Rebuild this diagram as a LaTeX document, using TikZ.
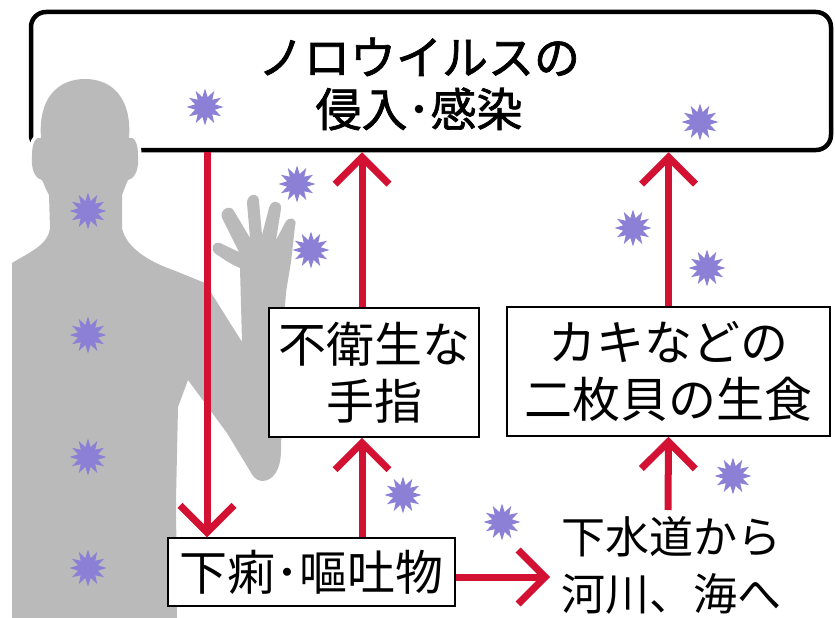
\documentclass[tikz,border=0pt]{standalone}
\usepackage{fontspec}
\newfontfamily\jpfont{Noto Sans CJK JP}
\newfontfamily\jpheavy[FakeBold=1.5]{Noto Sans CJK JP}
\usetikzlibrary{arrows.meta,shapes.geometric}

\definecolor{virus}{RGB}{140,128,214}
\definecolor{route}{RGB}{211,17,51}
\definecolor{silhouette}{RGB}{186,186,186}

\tikzset{
    frame/.style={draw, line width=4.5pt, rounded corners=15pt, inner sep=0pt},
    plate/.style={draw, fill=white, line width=1.5pt, inner sep=0pt, align=center,
        font=\jpfont\fontsize{48}{57}\selectfont},
    flow/.style={draw=route, line width=7pt, -{Straight Barb[length=27pt, width=54pt]}},
    germ/.style={star, star points=12, star point ratio=1.8, minimum size=37pt,
        inner sep=0pt, fill=virus},
}

\begin{document}
\begin{tikzpicture}[x=1pt, y=-1pt]
    \useasboundingbox[fill=white] (0,0) rectangle (835,618);

    % Where the virus gets in
    \node[frame, minimum width=800pt, minimum height=138pt] (infect) at (431,81) {};
    \node[font=\jpheavy\fontsize{46}{52}\selectfont, align=center, inner sep=0pt]
        (title) at (419,84) {ノロウイルスの\\侵入･感染};

    % Person with raised hand, white rim cuts the frame
    \path[fill=silhouette, preaction={draw=white, line width=7pt, line join=round}]
        (12,618) -- (12,263)
        .. controls (30,252) and (48,245) .. (50,228)
        -- (49,195)
        .. controls (46,190) and (44,184) .. (42,180)
        .. controls (34,178) and (31,168) .. (32,155)
        .. controls (32,143) and (36,136) .. (41,138)
        .. controls (38,98) and (58,79) .. (85,79)
        .. controls (112,79) and (132,98) .. (129,138)
        .. controls (134,136) and (138,143) .. (138,155)
        .. controls (139,168) and (136,178) .. (128,180)
        .. controls (126,184) and (124,190) .. (122,195)
        -- (122,228)
        .. controls (126,248) and (150,262) .. (173,270)
        -- (205,283) -- (242,342) -- (240,268)
        .. controls (230,264) and (222,258) .. (216,254)
        .. controls (210,250) and (212,241) .. (220,243)
        -- (239,252) -- (222,218)
        .. controls (219,209) and (231,204) .. (234,211)
        -- (250,238) -- (247,203)
        .. controls (247,193) and (259,192) .. (259,201)
        -- (262,235) -- (269,208)
        .. controls (271,199) and (282,200) .. (281,209)
        -- (276,240) -- (285,223)
        .. controls (289,215) and (298,218) .. (295,226)
        -- (291,262) -- (286,292) -- (284,320) -- (281,450)
        .. controls (281,470) and (273,481) .. (262,481)
        .. controls (256,481) and (252,475) .. (250,471)
        -- (227,433) -- (188,380) -- (178,407) -- (176,500) -- (177,618)
        -- cycle;

    % Routes
    \node[plate, minimum width=210pt, minimum height=129pt] (hands) at (374,372.5) {不衛生な\\手指};
    \node[plate, minimum width=323pt, minimum height=129pt] (oyster) at (668.5,371.5) {カキなどの\\二枚貝の生食};
    \node[plate, minimum width=287pt, minimum height=68pt] (vomit) at (311.5,572) {下痢･嘔吐物};
    \node[font=\jpfont\fontsize{44}{57}\selectfont, align=center, inner sep=0pt]
        (sewer) at (671,565.5) {下水道から\\河川、海へ};

    \coordinate (drop) at (207,0);
    \coordinate (lift) at (362,0);
    \coordinate (outfall) at (668,510);
    \coordinate (inlet) at (550,577);

    \draw[flow] (infect.south -| drop) -- (vomit.north -| drop);
    \draw[flow] (vomit.north -| lift) -- (hands.south -| lift);
    \draw[flow] (hands.north -| lift) -- (infect.south -| lift);
    \draw[flow] (outfall) -- (oyster.south);
    \draw[flow] (oyster.north) -- (infect.south -| oyster.north);
    \draw[flow] (vomit.east |- inlet) -- (inlet);

    % Virus particles
    \foreach \gx/\gy [count=\i] in {205/107, 700/122, 88/211, 297/184, 311/250,
            88/335, 88/457, 88/568, 403/495, 502/522, 633/228, 707/268, 733/476} {
        \node[germ] (germ\i) at (\gx,\gy) {};
    }
\end{tikzpicture}
\end{document}
